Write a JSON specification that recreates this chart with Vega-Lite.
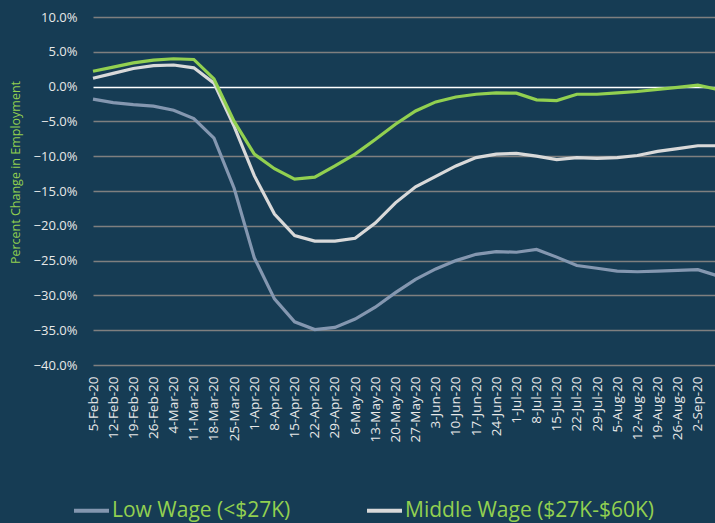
{
  "$schema": "https://vega.github.io/schema/vega-lite/v6.json",
  "autosize": {"type": "none"},
  "padding": {"left": 92, "top": 17, "right": 0, "bottom": 158},
  "width": 623,
  "height": 348,
  "background": "#163c54",
  "config": {
    "view": {"stroke": null},
    "font": "Open Sans"
  },
  "datasets": {
    "wide": [
      {"d": "5-Feb-20", "low": -1.8, "mid": 1.2, "high": 2.2},
      {"d": "12-Feb-20", "low": -2.3, "mid": 1.9, "high": 2.8},
      {"d": "19-Feb-20", "low": -2.6, "mid": 2.6, "high": 3.4},
      {"d": "26-Feb-20", "low": -2.8, "mid": 3.0, "high": 3.8},
      {"d": "4-Mar-20", "low": -3.4, "mid": 3.1, "high": 4.0},
      {"d": "11-Mar-20", "low": -4.6, "mid": 2.7, "high": 3.9},
      {"d": "18-Mar-20", "low": -7.4, "mid": 0.5, "high": 1.1},
      {"d": "25-Mar-20", "low": -14.6, "mid": -5.7, "high": -5.0},
      {"d": "1-Apr-20", "low": -24.6, "mid": -12.8, "high": -9.7},
      {"d": "8-Apr-20", "low": -30.5, "mid": -18.3, "high": -11.8},
      {"d": "15-Apr-20", "low": -33.8, "mid": -21.4, "high": -13.3},
      {"d": "22-Apr-20", "low": -34.9, "mid": -22.2, "high": -13.0},
      {"d": "29-Apr-20", "low": -34.6, "mid": -22.2, "high": -11.4},
      {"d": "6-May-20", "low": -33.4, "mid": -21.8, "high": -9.7},
      {"d": "13-May-20", "low": -31.7, "mid": -19.6, "high": -7.6},
      {"d": "20-May-20", "low": -29.6, "mid": -16.7, "high": -5.4},
      {"d": "27-May-20", "low": -27.7, "mid": -14.4, "high": -3.5},
      {"d": "3-Jun-20", "low": -26.2, "mid": -12.9, "high": -2.2},
      {"d": "10-Jun-20", "low": -25.0, "mid": -11.4, "high": -1.5},
      {"d": "17-Jun-20", "low": -24.1, "mid": -10.2, "high": -1.1},
      {"d": "24-Jun-20", "low": -23.7, "mid": -9.7, "high": -0.9},
      {"d": "1-Jul-20", "low": -23.8, "mid": -9.6, "high": -0.95},
      {"d": "8-Jul-20", "low": -23.4, "mid": -10.0, "high": -1.9},
      {"d": "15-Jul-20", "low": -24.5, "mid": -10.5, "high": -2.0},
      {"d": "22-Jul-20", "low": -25.7, "mid": -10.2, "high": -1.1},
      {"d": "29-Jul-20", "low": -26.1, "mid": -10.3, "high": -1.1},
      {"d": "5-Aug-20", "low": -26.5, "mid": -10.2, "high": -0.9},
      {"d": "12-Aug-20", "low": -26.6, "mid": -9.9, "high": -0.7},
      {"d": "19-Aug-20", "low": -26.5, "mid": -9.3, "high": -0.4},
      {"d": "26-Aug-20", "low": -26.4, "mid": -8.9, "high": -0.1},
      {"d": "2-Sep-20", "low": -26.3, "mid": -8.5, "high": 0.2},
      {"d": "9-Sep-20", "low": -27.2, "mid": -8.5, "high": -0.4}
    ]
  },
  "data": {"name": "wide"},
  "transform": [
    {"fold": ["low", "mid", "high"], "as": ["k", "v"]},
    {"lookup": "k", "from": {"data": {"values": [
      {"k": "low", "s": "Low Wage (<$27K)"},
      {"k": "mid", "s": "Middle Wage ($27K-$60K)"},
      {"k": "high", "s": "High Wage (>$60K)"}
    ]}, "key": "k", "fields": ["s"]}}
  ],
  "mark": {"type": "line", "strokeWidth": 3.2, "clip": true},
  "encoding": {
    "x": {
      "field": "d",
      "type": "ordinal",
      "sort": null,
      "scale": {
        "type": "point",
        "domain": ["5-Feb-20","12-Feb-20","19-Feb-20","26-Feb-20","4-Mar-20","11-Mar-20","18-Mar-20","25-Mar-20","1-Apr-20","8-Apr-20","15-Apr-20","22-Apr-20","29-Apr-20","6-May-20","13-May-20","20-May-20","27-May-20","3-Jun-20","10-Jun-20","17-Jun-20","24-Jun-20","1-Jul-20","8-Jul-20","15-Jul-20","22-Jul-20","29-Jul-20","5-Aug-20","12-Aug-20","19-Aug-20","26-Aug-20","2-Sep-20","9-Sep-20"],
        "range": [1, 626],
        "padding": 0
      },
      "axis": {
        "values": ["5-Feb-20","12-Feb-20","19-Feb-20","26-Feb-20","4-Mar-20","11-Mar-20","18-Mar-20","25-Mar-20","1-Apr-20","8-Apr-20","15-Apr-20","22-Apr-20","29-Apr-20","6-May-20","13-May-20","20-May-20","27-May-20","3-Jun-20","10-Jun-20","17-Jun-20","24-Jun-20","1-Jul-20","8-Jul-20","15-Jul-20","22-Jul-20","29-Jul-20","5-Aug-20","12-Aug-20","19-Aug-20","26-Aug-20","2-Sep-20"],
        "title": null,
        "labelAngle": 270,
        "labelAlign": "right",
        "labelBaseline": "middle",
        "labelPadding": 11,
        "labelFontSize": 13.5,
        "labelColor": "#e8e8e8",
        "labelFont": "Open Sans",
        "ticks": false,
        "domain": false,
        "grid": false,
        "labelOverlap": false
      }
    },
    "y": {
      "field": "v",
      "type": "quantitative",
      "scale": {"domain": [-40, 10], "nice": false, "zero": false},
      "axis": {
        "values": [10, 5, 0, -5, -10, -15, -20, -25, -30, -35, -40],
        "labelExpr": "format(datum.value, '.1f') + '%'",
        "title": "Percent Change in Employment",
        "titleColor": "#92d050",
        "titleFont": "Open Sans",
        "titleFontSize": 12.5,
        "titleFontWeight": "normal",
        "titleAngle": 270,
        "titleAlign": "center",
        "titleBaseline": "middle",
        "titleX": -77,
        "titleY": 155,
        "labelColor": "#e8e8e8",
        "labelFont": "Open Sans",
        "labelFontSize": 13,
        "labelPadding": 15,
        "ticks": false,
        "domain": false,
        "grid": true,
        "gridColor": {"condition": {"test": "datum.value === 0", "value": "#ffffff"}, "value": "#7f7f7f"},
        "gridWidth": 1.5
      }
    },
    "color": {
      "field": "s",
      "type": "nominal",
      "scale": {
        "domain": ["Low Wage (<$27K)", "Middle Wage ($27K-$60K)", "High Wage (>$60K)"],
        "range": ["#8497b0", "#d9d9d9", "#92d050"]
      },
      "legend": {
        "title": null,
        "orient": "none",
        "direction": "horizontal",
        "legendX": -20,
        "legendY": 474,
        "symbolType": "stroke",
        "symbolSize": 1225,
        "symbolStrokeWidth": 4,
        "labelColor": "#92d050",
        "labelFont": "Open Sans",
        "labelFontSize": 21,
        "labelOffset": 1,
        "columnPadding": 68,
        "labelLimit": 400
      }
    }
  }
}
